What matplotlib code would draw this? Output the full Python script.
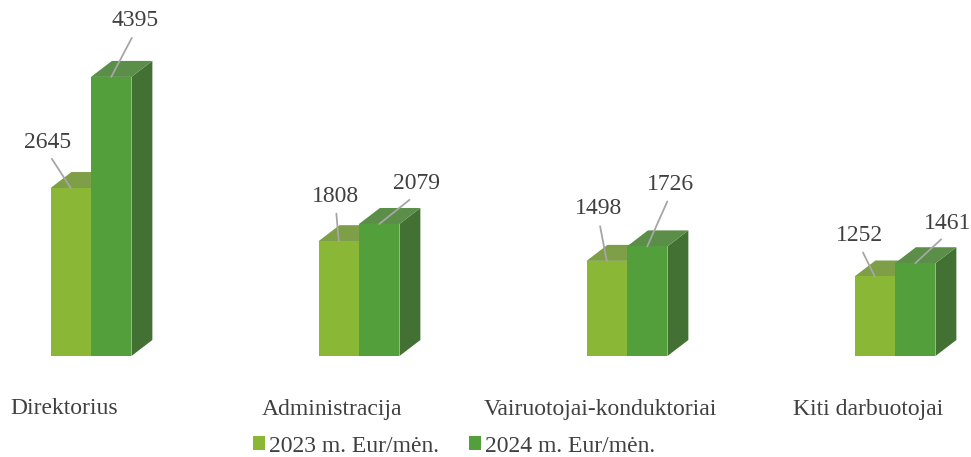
import matplotlib
matplotlib.use("Agg")
import matplotlib.pyplot as plt
from matplotlib.patches import Polygon, Patch

categories = ["Direktorius", "Administracija", "Vairuotojai-konduktoriai", "Kiti darbuotojai"]
series_names = ["2023 m. Eur/mėn.", "2024 m. Eur/mėn."]
values_2023 = [2645, 1808, 1498, 1252]
values_2024 = [4395, 2079, 1726, 1461]

# styles
front_cols = ["#8BB736", "#539F3B"]
top_cols = ["#7E9E47", "#5B8E49"]
side_cols = ["#6E8F2E", "#437133"]
text_col = "#404040"
line_col = "#A6A6A6"
FS = 17
bar_w = 0.151
depth_x = 0.078
depth_y = 252
label_offsets = [
    [(-23, 46), (-3, 45), (-8, 52), (-15, 41)],
    [(24, 56), (37, 40), (23, 62), (32, 40)],
]

plt.rcParams["font.family"] = ["Liberation Serif", "DejaVu Serif"]
fig = plt.figure(figsize=(9.71, 4.57), dpi=100)
ax = fig.add_axes([0, 101 / 457, 1, 356 / 457])
ax.set_xlim(-91 / 268, (971 - 91) / 268)
ax.set_ylim(0, 356 / 0.0635)
ax.axis("off")

for s, vals in enumerate([values_2023, values_2024]):
    for i, v in enumerate(vals):
        x0 = i - bar_w + s * bar_w
        x1 = x0 + bar_w
        side = Polygon([(x1, 0), (x1 + depth_x, depth_y), (x1 + depth_x, v + depth_y), (x1, v)],
                       closed=True, facecolor=side_cols[s], edgecolor="none", zorder=2 + 2 * s)
        top = Polygon([(x0, v), (x1, v), (x1 + depth_x, v + depth_y), (x0 + depth_x, v + depth_y)],
                      closed=True, facecolor=top_cols[s], edgecolor="none", zorder=2 + 2 * s)
        ax.add_patch(side)
        ax.add_patch(top)
    xs = [i - bar_w / 2 + s * bar_w for i in range(len(vals))]
    ax.bar(xs, vals, width=bar_w, color=front_cols[s], zorder=3 + 2 * s)
    for i, v in enumerate(vals):
        ax.annotate(str(v), xy=(xs[i], v), xytext=label_offsets[s][i], textcoords="offset pixels",
                    ha="center", va="center", fontsize=FS, color=text_col, zorder=10,
                    arrowprops=dict(arrowstyle="-", color=line_col, lw=1.3,
                                    relpos=(0.5, 0.0), shrinkA=3, shrinkB=0))

for i, c in enumerate(categories):
    ax.annotate(c, xy=(i, 0), xytext=(-27, -53), textcoords="offset pixels",
                ha="center", va="center", fontsize=FS, color=text_col, annotation_clip=False)

handles = [Patch(facecolor=front_cols[k], edgecolor="none") for k in range(2)]
fig.legend(handles, series_names, loc="center", bbox_to_anchor=(454 / 971, 1 - 446 / 457),
           ncol=2, frameon=False, fontsize=FS, handlelength=0.5, handleheight=0.5,
           handletextpad=0.15, columnspacing=1.3, labelcolor=text_col)

fig.savefig("out.png", dpi=100)
